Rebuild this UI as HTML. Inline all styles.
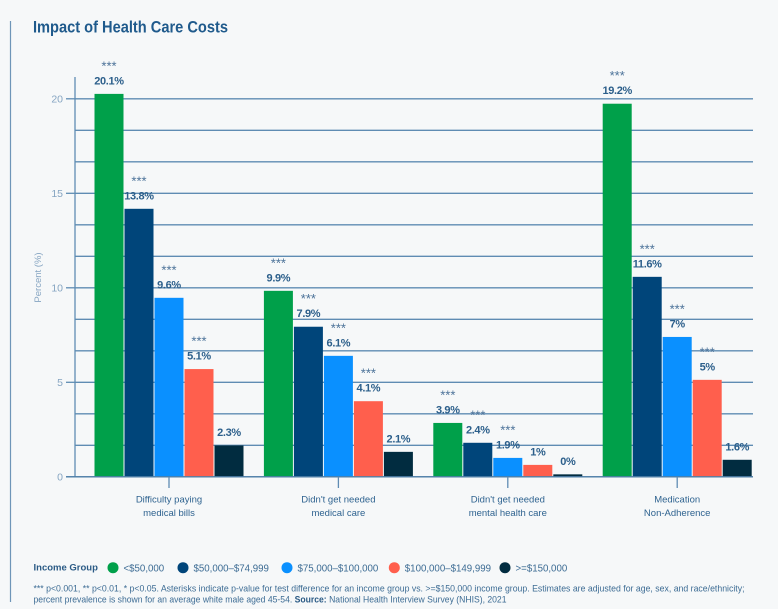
<!DOCTYPE html>
<html lang="en">
<head>
<meta charset="utf-8">
<title>Impact of Health Care Costs</title>
<style>
html,body{margin:0;padding:0;background:#f6f8f9;width:778px;height:609px;overflow:hidden}
svg{display:block;font-family:"Liberation Sans",sans-serif}
</style>
</head>
<body>
<svg id="chart" xmlns="http://www.w3.org/2000/svg" width="778" height="609" viewBox="0 0 778 609">
<rect x="0" y="0" width="778" height="609" fill="#f6f8f9"/>
<line x1="10.5" y1="21" x2="10.5" y2="602" stroke="#6e95b8" stroke-width="1.2"/>
<text x="33" y="32.5" font-size="16.5" font-weight="700" fill="#1f5a8c" textLength="195" lengthAdjust="spacingAndGlyphs">Impact of Health Care Costs</text>
<g id="plot"></g>
<g id="legend"></g>
<text x="33.5" y="591.5" font-size="9.5" fill="#3d6c94" textLength="711" lengthAdjust="spacingAndGlyphs">*** p&lt;0.001, ** p&lt;0.01, * p&lt;0.05. Asterisks indicate p-value for test difference for an income group vs. &gt;=$150,000 income group. Estimates are adjusted for age, sex, and race/ethnicity;</text>
<text x="33.5" y="602.5" font-size="9.5" fill="#3d6c94" textLength="473" lengthAdjust="spacingAndGlyphs">percent prevalence is shown for an average white male aged 45-54. <tspan font-weight="700" fill="#2a5a85">Source:</tspan> National Health Interview Survey (NHIS), 2021</text>
</svg>
<script>
const categories = [["Difficulty paying", "medical bills"], ["Didn't get needed", "medical care"], ["Didn't get needed", "mental health care"], ["Medication", "Non-Adherence"]];
const seriesNames = ["<$50,000", "$50,000–$74,999", "$75,000–$100,000", "$100,000–$149,999", ">=$150,000"];
const seriesColors = ["#00a04a", "#00457a", "#0a90ff", "#ff5f4d", "#012c40"];
const under50 = [20.26, 9.84, 2.85, 19.74];
const from50to75 = [14.18, 7.94, 1.8, 10.58];
const from75to100 = [9.47, 6.4, 1.0, 7.4];
const from100to150 = [5.7, 4.0, 0.63, 5.13];
const over150 = [1.66, 1.32, 0.13, 0.9];
const printedUnder50 = ["20.1%", "9.9%", "3.9%", "19.2%"];
const printedFrom50to75 = ["13.8%", "7.9%", "2.4%", "11.6%"];
const printedFrom75to100 = ["9.6%", "6.1%", "1.9%", "7%"];
const printedFrom100to150 = ["5.1%", "4.1%", "1%", "5%"];
const printedOver150 = ["2.3%", "2.1%", "0%", "1.6%"];
const starsUnder50 = ["***", "***", "***", "***"];
const starsFrom50to75 = ["***", "***", "***", "***"];
const starsFrom75to100 = ["***", "***", "***", "***"];
const starsFrom100to150 = ["***", "***", "", "***"];
const starsOver150 = ["", "", "", ""];
const yTickLabels = [0, 5, 10, 15, 20];
const gridValues = [0, 1.667, 3.333, 5, 6.667, 8.333, 10, 11.667, 13.333, 15, 16.667, 18.333, 20];

const seriesValues = [under50, from50to75, from75to100, from100to150, over150];
const seriesPrinted = [printedUnder50, printedFrom50to75, printedFrom75to100, printedFrom100to150, printedOver150];
const seriesStars = [starsUnder50, starsFrom50to75, starsFrom75to100, starsFrom100to150, starsOver150];

const SVGNS = "http://www.w3.org/2000/svg";
const plot = document.getElementById("plot");
const legend = document.getElementById("legend");
const y0 = 476.8, pxPerUnit = 18.9;
const axisLeft = 75, axisRight = 753;
const groupStart = 169, groupStep = 169.4, barStep = 30, barWidth = 29;
function yScale(v) { return y0 - v * pxPerUnit; }
function groupCenter(i) { return groupStart + i * groupStep; }
function barX(g, s) { return groupCenter(g) - 74.5 + s * barStep; }
function make(parent, tag, attrs, text) {
  const el = document.createElementNS(SVGNS, tag);
  for (const k in attrs) el.setAttribute(k, attrs[k]);
  if (text !== undefined) el.textContent = text;
  parent.appendChild(el);
  return el;
}

gridValues.forEach(function (v) {
  const l = make(plot, "line", {x1: axisLeft, x2: axisRight, y1: yScale(v), y2: yScale(v), stroke: "#5f8cb3", "stroke-width": 1.3});
  
  
});
const yAxis = make(plot, "line", {x1: axisLeft, x2: axisLeft, y1: 77, y2: y0, stroke: "#5f8cb3", "stroke-width": 1.3});



yTickLabels.forEach(function (v) {
  const t = make(plot, "line", {x1: 66, x2: axisLeft, y1: yScale(v), y2: yScale(v), stroke: "#5f8cb3", "stroke-width": 1.3});
  
  
  const lab = make(plot, "text", {x: 63, y: yScale(v) + 3.8, "text-anchor": "end", "font-size": 10.5, fill: "#86a5c2"}, String(v));
  
  
});
const yTitle = make(plot, "text", {x: 0, y: 0, transform: "translate(41 277.5) rotate(-90)", "text-anchor": "middle", "font-size": 9.5, fill: "#86a5c2"}, "Percent (%)");



seriesValues.forEach(function (vals, s) {
  vals.forEach(function (v, g) {
    const r = make(plot, "rect", {x: barX(g, s), y: yScale(v), width: barWidth, height: y0 - yScale(v), fill: seriesColors[s]});
    
    
  });
});
const baseline = make(plot, "line", {x1: 66, x2: axisRight, y1: y0, y2: y0, stroke: "#4f7fa8", "stroke-width": 1.3});



seriesValues.forEach(function (vals, s) {
  vals.forEach(function (v, g) {
    const cx = barX(g, s) + barWidth / 2;
    const top = yScale(v);
    const lab = make(plot, "text", {x: cx, y: top - 9.5, "text-anchor": "middle", "font-size": 11, "font-weight": 700, "letter-spacing": "-0.35", fill: "#2c5f8b"}, seriesPrinted[s][g]);
    
    
    if (seriesStars[s][g]) {
      const st = make(plot, "text", {x: cx, y: top - 23.5, "text-anchor": "middle", "font-size": 13, fill: "#4a7198"}, seriesStars[s][g]);
      
      
    }
  });
});

categories.forEach(function (lines, g) {
  const cx = groupCenter(g);
  const t = make(plot, "line", {x1: cx, x2: cx, y1: y0, y2: 488, stroke: "#5f8cb3", "stroke-width": 1.3});
  
  
  lines.forEach(function (txt, i) {
    const lab = make(plot, "text", {x: cx, y: 502.5 + i * 13.5, "text-anchor": "middle", "font-size": 9.5, fill: "#2f6390"}, txt);
    
    
  });
});

const legendTitle = make(legend, "text", {x: 33.5, y: 570.5, "font-size": 9.5, "font-weight": 700, fill: "#2a5a85"}, "Income Group");


let legendCursor = 113;
const legendGap = [70, 104, 107.3, 110.7, 0];
seriesNames.forEach(function (name, s) {
  const c = make(legend, "circle", {cx: legendCursor, cy: 567.7, r: 5.5, fill: seriesColors[s]});
  
  
  const t = make(legend, "text", {x: legendCursor + 10.5, y: 571.3, "font-size": 9.7, fill: "#3d6c94"}, name);
  
  
  legendCursor += legendGap[s];
});
</script>
</body>
</html>
